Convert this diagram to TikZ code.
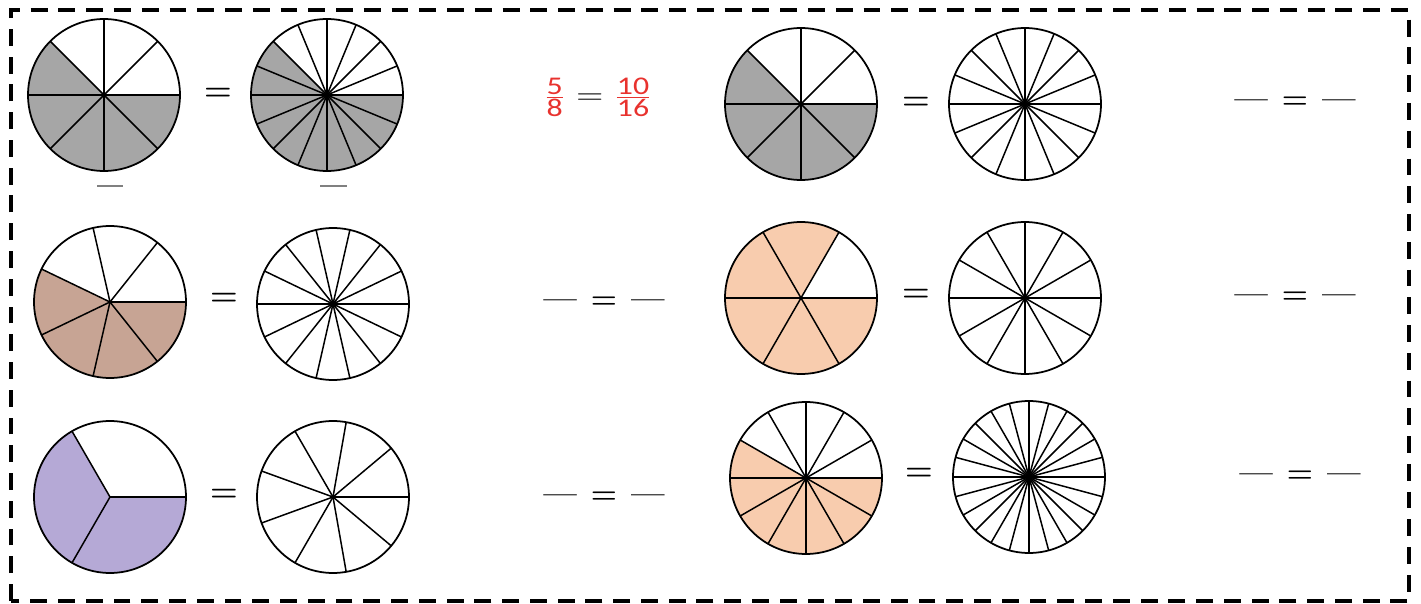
\documentclass[tikz,border=0pt]{standalone}
\usepackage{fontspec}
\usepackage{graphicx}
\newfontfamily\calfont{Carlito}

\definecolor{pieGray}{RGB}{166,166,166}
\definecolor{pieBrown}{RGB}{199,164,148}
\definecolor{piePeach}{RGB}{248,204,174}
\definecolor{piePurple}{RGB}{181,169,214}
\definecolor{ansRed}{RGB}{232,50,46}

\tikzset{
  rim/.style={line width=1pt},
  spoke/.style={line width=0.85pt},
  pienode/.style={circle, inner sep=0pt, outer sep=0pt, minimum size=3.04cm},
  eqsign/.style={font=\fontsize{18}{20}\selectfont\bfseries, inner sep=0pt},
  blank/.style={font=\fontsize{17}{20}\selectfont\bfseries, inner sep=0pt},
  frame/.style={line width=2pt, dash pattern=on 9.6pt off 6.2pt},
}

% pie: node name, number of parts, shaded parts, colour
\newcommand{\fracpie}[4]{%
  \pgfmathsetmacro\pstart{360-#3*360/#2}
  \ifnum#3>0
    \fill[#4] (#1.center) -- ++(\pstart:1.52cm)
      arc[start angle=\pstart, end angle=360, radius=1.52cm] -- cycle;
  \fi
  \foreach \k in {1,...,#2}
    \draw[spoke] (#1.center) -- ++({\k*360/#2}:1.52cm);
  \draw[rim] (#1.center) circle[radius=1.52cm];
}

\begin{document}
\begin{tikzpicture}[x=0.02cm, y=0.02cm]
    \useasboundingbox (0,0) rectangle (1421,603);

    % Frame
    \draw[frame] (11,2) rectangle (1409,593);

    % Circles
    \node[pienode] (pieA) at (104,508) {};
    \node[pienode] (pieB) at (327,508) {};
    \node[pienode] (pieC) at (801,499) {};
    \node[pienode] (pieD) at (1025,499) {};
    \node[pienode] (pieE) at (110,301) {};
    \node[pienode] (pieF) at (333,299) {};
    \node[pienode] (pieG) at (801,305) {};
    \node[pienode] (pieH) at (1025,305) {};
    \node[pienode] (pieI) at (110,106) {};
    \node[pienode] (pieJ) at (333,106) {};
    \node[pienode] (pieK) at (806,125) {};
    \node[pienode] (pieL) at (1029,126) {};

    \fracpie{pieA}{8}{5}{pieGray}
    \fracpie{pieB}{16}{10}{pieGray}
    \fracpie{pieC}{8}{5}{pieGray}
    \fracpie{pieD}{16}{0}{white}
    \fracpie{pieE}{7}{4}{pieBrown}
    \fracpie{pieF}{14}{0}{white}
    \fracpie{pieG}{6}{5}{piePeach}
    \fracpie{pieH}{12}{0}{white}
    \fracpie{pieI}{3}{2}{piePurple}
    \fracpie{pieJ}{9}{0}{white}
    \fracpie{pieK}{12}{7}{piePeach}
    \fracpie{pieL}{24}{0}{white}

    % Equals signs
    \node[eqsign] (eqA) at (218,509) {=};
    \node[eqsign] (eqB) at (916,500) {=};
    \node[eqsign] (eqC) at (224,304) {=};
    \node[eqsign] (eqD) at (916,308) {=};
    \node[eqsign] (eqE) at (224,108) {=};
    \node[eqsign] (eqF) at (919,129) {=};

    % Worked answer
    \node[inner sep=0pt] (answer) at (598,506) {\scalebox{1.25}[1]{%
      \fontsize{14.5}{16}\selectfont
      $\color{ansRed}\frac{\mbox{\calfont 5}}{\mbox{\calfont 8}}$%
      \hspace{5pt}{\fontsize{17}{18}\selectfont =}\hspace{5pt}%
      $\color{ansRed}\frac{\mbox{\calfont 10}}{\mbox{\calfont 16}}$}};

    % Blanks to fill
    \node[blank] (blankA) at (1295,500) {---\hspace{8pt}=\hspace{8pt}---};
    \node[blank] (blankB) at (604,300) {---\hspace{8pt}=\hspace{8pt}---};
    \node[blank] (blankC) at (1295,305) {---\hspace{8pt}=\hspace{8pt}---};
    \node[blank] (blankD) at (604,105) {---\hspace{8pt}=\hspace{8pt}---};
    \node[blank] (blankE) at (1300,126) {---\hspace{8pt}=\hspace{8pt}---};

    % Faint bars under the first pair
    \draw[gray, line width=1pt] (97,417) -- (123,417);
    \draw[gray, line width=1pt] (320,417) -- (347,417);
\end{tikzpicture}
\end{document}
